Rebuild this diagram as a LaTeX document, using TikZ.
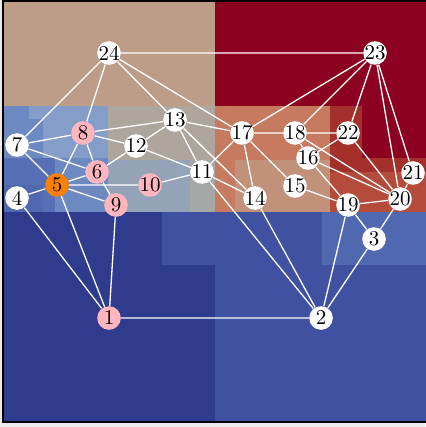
\documentclass[tikz,border=0pt]{standalone}
\usepackage{xcolor}
\usepackage{tikz}
\usetikzlibrary{positioning}
\definecolor{mapnavy}{HTML}{2F3B8D}
\definecolor{mapblue}{HTML}{3F51A0}
\definecolor{mapsky}{HTML}{5068B0}
\definecolor{mapsteel}{HTML}{6D89C2}
\definecolor{mapmist}{HTML}{849DC9}
\definecolor{mapdeep}{HTML}{566FB5}
\definecolor{mapstone}{HTML}{AEA69D}
\definecolor{mapslate}{HTML}{95A3B8}
\definecolor{mapash}{HTML}{A6A8A8}
\definecolor{maptan}{HTML}{BD9D88}
\definecolor{mapsalmon}{HTML}{C67A60}
\definecolor{mapsand}{HTML}{C1917A}
\definecolor{maprust}{HTML}{A3302A}
\definecolor{mapbrick}{HTML}{B54B3A}
\definecolor{mapwine}{HTML}{8C0020}
\definecolor{nodepink}{HTML}{FFB6BE}
\definecolor{nodeorange}{HTML}{FF7F00}

\begin{document}
\begin{tikzpicture}[
  x=0.5pt, y=-0.5pt,
  vertex/.style={circle, fill=white, inner sep=-1pt, minimum size=11.8pt,
                 font=\fontsize{10.5}{12}\selectfont},
  pinkvertex/.style={vertex, fill=nodepink},
  orangevertex/.style={vertex, fill=nodeorange},
  edge/.style={draw=white, line width=0.65pt}
]
\useasboundingbox[fill=white!92!black] (0,0) rectangle (425,427);

%% Heat map behind the graph
\fill[mapnavy]   (3,1)   rectangle (428,422);
\fill[maptan]    (3,1)   rectangle (215,106);
\fill[mapwine]   (215,1) rectangle (428,106);
\fill[mapblue]   (215,212) rectangle (428,422);
\fill[mapblue]   (162,212) rectangle (215,265);
\fill[mapsky]    (322,212) rectangle (428,265);

%% Middle band, left part
\fill[mapsteel]  (3,106)  rectangle (108,212);
\fill[mapmist]   (29,106) rectangle (108,119);
\fill[mapmist]   (43,119) rectangle (108,158);
\fill[mapdeep]   (3,158)  rectangle (55,212);
\fill[mapsky]    (3,185)  rectangle (43,212);

%% Middle band, centre part
\fill[mapstone]  (108,106) rectangle (215,160);
\fill[mapslate]  (108,160) rectangle (215,212);
\fill[mapash]    (190,160) rectangle (215,212);

%% Middle band, right part
\fill[mapsalmon] (215,106) rectangle (330,212);
\fill[mapsand]   (235,160) rectangle (330,212);
\fill[maprust]   (330,106) rectangle (428,212);
\fill[mapwine]   (362,106) rectangle (428,158);
\fill[mapbrick]  (330,172) rectangle (428,212);

\draw[black, line width=0.6pt] (3,1) rectangle (430,422);

%% Vertices
\node[pinkvertex]   (v1)  at (109,318) {1};
\node[vertex]       (v2)  at (321,318) {2};
\node[vertex]       (v3)  at (374,239) {3};
\node[vertex]       (v4)  at (17,198)  {4};
\node[orangevertex] (v5)  at (57,185)  {5};
\node[pinkvertex]   (v6)  at (97,172)  {6};
\node[vertex]       (v7)  at (17,145)  {7};
\node[pinkvertex]   (v8)  at (83,133)  {8};
\node[pinkvertex]   (v9)  at (116,205) {9};
\node[pinkvertex]   (v10) at (150,185) {10};
\node[vertex]       (v11) at (202,172) {11};
\node[vertex]       (v12) at (136,146) {12};
\node[vertex]       (v13) at (175,120) {13};
\node[vertex]       (v14) at (255,198) {14};
\node[vertex]       (v15) at (295,186) {15};
\node[vertex]       (v16) at (308,158) {16};
\node[vertex]       (v17) at (242,133) {17};
\node[vertex]       (v18) at (295,133) {18};
\node[vertex]       (v19) at (348,205) {19};
\node[vertex]       (v20) at (400,199) {20};
\node[vertex]       (v21) at (413,173) {21};
\node[vertex]       (v22) at (348,133) {22};
\node[vertex]       (v23) at (375,53)  {23};
\node[vertex]       (v24) at (109,53)  {24};

%% Edges
\draw[edge] (v24) -- (v23) (v24) -- (v7) (v24) -- (v8) (v24) -- (v13) (v24) -- (v17);
\draw[edge] (v7) -- (v8) (v7) -- (v6) (v7) -- (v5);
\draw[edge] (v8) -- (v13) (v8) -- (v12) (v8) -- (v6) (v8) -- (v5);
\draw[edge] (v12) -- (v13) (v12) -- (v6) (v12) -- (v11);
\draw[edge] (v13) -- (v17) (v13) -- (v11) (v13) -- (v14);
\draw[edge] (v11) -- (v10) (v11) -- (v17) (v11) -- (v14) (v11) -- (v2);
\draw[edge] (v17) -- (v18) (v17) -- (v23) (v17) -- (v14) (v17) -- (v15);
\draw[edge] (v5) -- (v6) (v5) -- (v4) (v5) -- (v9) (v5) -- (v10) (v5) -- (v1);
\draw[edge] (v6) -- (v9) (v9) -- (v1) (v4) -- (v1) (v1) -- (v2);
\draw[edge] (v2) -- (v14) (v2) -- (v19) (v2) -- (v3);
\draw[edge] (v3) -- (v19) (v3) -- (v20);
\draw[edge] (v19) -- (v15) (v19) -- (v16) (v19) -- (v20);
\draw[edge] (v18) -- (v22) (v18) -- (v23) (v18) -- (v16) (v18) -- (v20);
\draw[edge] (v16) -- (v22) (v16) -- (v20);
\draw[edge] (v22) -- (v23) (v22) -- (v20);
\draw[edge] (v23) -- (v20) (v23) -- (v21) (v21) -- (v20);

\end{tikzpicture}
\end{document}
